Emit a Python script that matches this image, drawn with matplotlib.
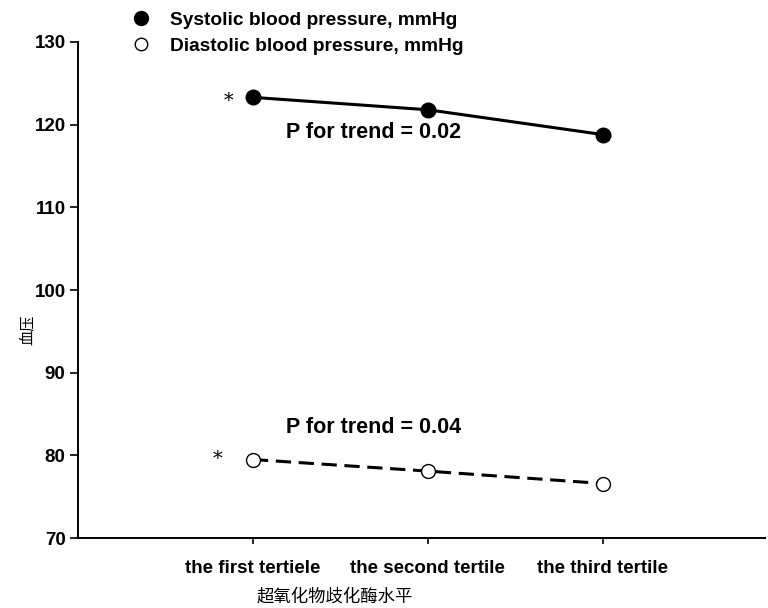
import matplotlib.pyplot as plt
from matplotlib.lines import Line2D

plt.rcParams['font.family'] = ['Liberation Sans', 'Noto Sans CJK SC', 'DejaVu Sans']

# datos
categorias = ['the first tertiele', 'the second tertile', 'the third tertile']
sistolica = [123.3, 121.8, 118.8]
diastolica = [79.5, 78.1, 76.6]
yticks = [70, 80, 90, 100, 110, 120, 130]
posiciones = [1, 2, 3]

fig = plt.figure(figsize=(7.68, 6.08), dpi=100)
ax = fig.add_axes([0.1016, 0.115, 0.895, 0.816])

ax.plot(posiciones, sistolica, color='black', lw=2.2, marker='o', ms=10.5,
        mfc='black', mec='black')
ax.plot(posiciones, diastolica, color='black', lw=2.2, ls=(0, (5, 2.5)), marker='o',
        ms=10, mfc='white', mec='black', mew=1.0)

ax.set_xlim(0, 3.93)
ax.set_ylim(70, 130)
ax.set_yticks(yticks)
ax.set_xticks(posiciones)
ax.set_xticklabels(categorias, fontsize=13.5, fontweight='bold')
for t in ax.get_yticklabels():
    t.set_fontsize(13.5)
    t.set_fontweight('bold')
ax.tick_params(axis='y', direction='out', length=6, width=1.2, pad=3)
ax.tick_params(axis='x', direction='out', length=4, width=1.2, pad=12)
ax.spines['top'].set_visible(False)
ax.spines['right'].set_visible(False)
ax.spines['left'].set_linewidth(1.4)
ax.spines['bottom'].set_linewidth(1.4)

ax.set_ylabel('血压', fontsize=11, family=['Noto Sans CJK SC'])
ax.yaxis.set_label_coords(-0.062, 0.42)
ax.set_xlabel('超氧化物歧化酶水平', fontsize=12.5, family=['Noto Sans CJK SC'])
ax.xaxis.set_label_coords(0.373, -0.1)

# anotaciones
ax.text(0.86, 122.8, '*', fontsize=14, family=['DejaVu Serif'], ha='center', va='center')
ax.text(0.80, 79.6, '*', fontsize=14, family=['DejaVu Serif'], ha='center', va='center')
ax.text(1.19, 119.1, 'P for trend = 0.02', fontsize=15.5, fontweight='bold', ha='left', va='center')
ax.text(1.19, 83.4, 'P for trend = 0.04', fontsize=15.5, fontweight='bold', ha='left', va='center')

# leyenda
handles = [
    Line2D([], [], ls='none', marker='o', ms=10, mfc='black', mec='black'),
    Line2D([], [], ls='none', marker='o', ms=9, mfc='white', mec='black', mew=1.0),
]
etiquetas = ['Systolic blood pressure, mmHg', 'Diastolic blood pressure, mmHg']
leg = fig.legend(handles, etiquetas, loc='upper left', bbox_to_anchor=(0.149, 1.01),
                 frameon=False, prop={'size': 13.8, 'weight': 'bold'},
                 handletextpad=1.0, labelspacing=0.45, handlelength=1.0)

fig.savefig('out.png', dpi=100)
